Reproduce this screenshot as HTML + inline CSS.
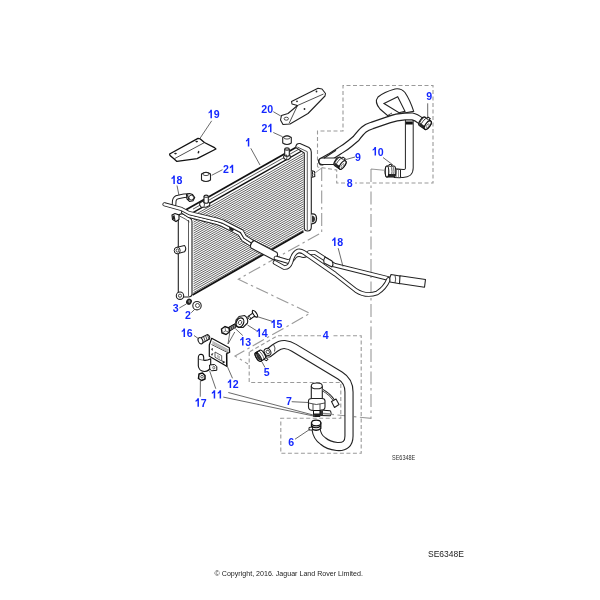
<!DOCTYPE html>
<html><head><meta charset="utf-8">
<style>
html,body{margin:0;padding:0;background:#fff;width:600px;height:600px;overflow:hidden}
svg{display:block;filter:blur(0.3px)}
</style></head>
<body>
<svg width="600" height="600" viewBox="0 0 600 600">
<defs>
<style>
.lb{font-family:"Liberation Sans",sans-serif;font-weight:bold;font-size:11.5px;fill:#1428ff}
.ln{fill:none;stroke:#333;stroke-width:0.9}
.dsh{fill:none;stroke:#9a9a9a;stroke-width:1.1;stroke-dasharray:4 2.5}
.dd{fill:none;stroke:#9a9a9a;stroke-width:1.1;stroke-dasharray:13 3.5 2.5 3.5}
.o{fill:#fff;stroke:#222;stroke-width:1.1;stroke-linejoin:round}
.th{fill:none;stroke:#222;stroke-width:0.8}
.tb1{fill:none;stroke:#222;stroke-linecap:round;stroke-linejoin:round}
.tb2{fill:none;stroke:#fff;stroke-linecap:round;stroke-linejoin:round}
</style>
</defs>
<!-- DASHED BOXES -->
<g id="dashes">
  <path class="dsh" d="M317.5,167 L317.5,131 L343,131 L343,85.5 L433,85.5 L433,183 L355,183 M345,183 L336.7,183 L336.7,170 L317.5,167"/>
  <path class="dd" d="M321.7,168 L321.7,232.5 L238.3,279.2 L310,313.3 L235,356 L248,364"/>
  <path class="dd" d="M371,169 L371,418.3 L330,414.2 M371,169 L386.5,170.5"/>
  <path class="dsh" d="M249.2,352 L249.2,382.5 L340.8,382.5 L340.8,418.3 L280.8,418.3 L280.8,453.3 L361.2,453.3 L361.2,335.8 L331,335.8 M321,335.8 L277.5,335.8 L249.2,352"/>
</g>

<!-- RADIATOR -->
<g id="radiator">
  <path d="M193.5,215.60L303.5,153.23M193.5,217.80L303.5,155.43M193.5,220.00L303.5,157.63M193.5,222.20L303.5,159.83M193.5,224.40L303.5,162.03M193.5,226.60L303.5,164.23M193.5,228.80L303.5,166.43M193.5,231.00L303.5,168.63M193.5,233.20L303.5,170.83M193.5,235.40L303.5,173.03M193.5,237.60L303.5,175.23M193.5,239.80L303.5,177.43M193.5,242.00L303.5,179.63M193.5,244.20L303.5,181.83M193.5,246.40L303.5,184.03M193.5,248.60L303.5,186.23M193.5,250.80L303.5,188.43M193.5,253.00L303.5,190.63M193.5,255.20L303.5,192.83M193.5,257.40L303.5,195.03M193.5,259.60L303.5,197.23M193.5,261.80L303.5,199.43M193.5,264.00L303.5,201.63M193.5,266.20L303.5,203.83M193.5,268.40L303.5,206.03M193.5,270.60L303.5,208.23M193.5,272.80L303.5,210.43M193.5,275.00L303.5,212.63M193.5,277.20L303.5,214.83M193.5,279.40L303.5,217.03M193.5,281.60L303.5,219.23M193.5,283.80L303.5,221.43M193.5,286.00L303.5,223.63M193.5,288.20L303.5,225.83M193.5,290.40L303.5,228.03M193.5,292.60L303.5,230.23" fill="none" stroke="#444" stroke-width="0.85"/>
  <path d="M192.5,295 L303.5,231.5" fill="none" stroke="#111" stroke-width="1.8"/>
  <path d="M186,209.82 L298,146.31 L303.5,149.00 L303.5,150.00 L192.5,212.93 L186,212.32 Z" fill="#fff" stroke="none"/>
  <path d="M186,209.82 L298,146.31" fill="none" stroke="#111" stroke-width="1.7"/>
  <path d="M193,209.15 L301,147.91" fill="none" stroke="#333" stroke-width="0.8"/>
  <path d="M192.5,212.93 L303.5,150.00" fill="none" stroke="#111" stroke-width="1.4"/>
  <g class="o">
    <path d="M199.7,203 L203,201 L208,201 L209.7,203.5 L209.7,205.5 L206,207.3 L201,207 L199.7,205 Z"/>
    <path d="M204,196.2 L204,202.5 Q206.2,204 208.3,202.5 L208.3,196.2"/>
    <ellipse cx="206.15" cy="196.2" rx="2.15" ry="1.1"/>
    <path d="M283.7,156 L286,154.3 L289,154.3 L290.3,156 L290.3,158 L288,159.7 L285.5,159.7 L283.7,158 Z"/>
    <path d="M284.7,149 L284.7,155.5 Q287,157 289.3,155.5 L289.3,149"/>
    <ellipse cx="287" cy="149" rx="2.3" ry="1.1"/>
  </g>
  <path class="th" d="M203,201 L204.5,204 L204,207 M286,154.3 L287,157 L286.5,159.7"/>
  <!-- left tank -->
  <path d="M178.3,218 Q178.3,213 183,214 L189,217 Q192,219 192,222 L192,294 Q192,297 188,297 L182,297 Q178.3,297 178.3,293 Z" fill="#fff" stroke="#222" stroke-width="1.1"/>
  <path d="M188.5,220 L188.5,296" fill="none" stroke="#333" stroke-width="0.8"/>
  <path d="M172,215 L175,213.5 L179,215 L179,219.5 L176,221.5 L172.5,219.5 Z" fill="#fff" stroke="#111" stroke-width="1.1"/>
  <path d="M172.5,216 L174.5,215 L175.5,220.5 L173,219 Z" fill="#222"/>
  <path d="M179.5,216 Q186,219 189.5,222" fill="none" stroke="#333" stroke-width="0.8"/>
  <!-- right tank -->
  <path d="M295.7,147.5 Q296,143 300,143.5 L309,147.5 Q311.3,149 311.3,152 L311.3,227 Q311.3,231 307.5,231 Q304.3,231 304.3,228 L304.3,153 Z" fill="#fff" stroke="#222" stroke-width="1.1"/>
  <path d="M297.3,147 L307.3,151.7 L307.3,230" fill="none" stroke="#333" stroke-width="0.8"/>
  <g class="o">
    <path d="M177.2,247.2 L184.5,245.5 Q187,248.5 184.5,251.8 L177.2,253.8 Z"/>
    <circle cx="180" cy="295.7" r="3.7"/>
    <path d="M311.3,214 Q316.5,213 316.5,218.5 Q316.5,224 311.3,223.8" stroke-width="1.3"/>
    <path d="M311.3,170.5 L314.5,171.5 L314.8,176.5 L311.3,177.5"/>
  </g>
  <ellipse cx="177.2" cy="250.5" rx="3" ry="3.3" fill="#fff" stroke="#222" stroke-width="1"/><ellipse cx="177.4" cy="250.5" rx="1.3" ry="1.6" class="th"/>
  <circle cx="180" cy="295.7" r="1.6" class="th"/>
  <path d="M312,215.5 Q315,216 315,219 Q315,222 312,222.5 Z" fill="#333"/><path d="M311.5,171 L313,171.5 L313,176.5 L311.5,177 Z" fill="#222"/>
  <path d="M311.5,175.5 L321.7,168" stroke="#888" stroke-width="0.8"/>
</g>

<!-- PIPE 18 -->
<g id="pipe18">
  <path class="tb1" stroke-width="4.6" d="M174,205 L174.3,200.5 Q175,197.5 178,197 L184,195.8 L188,195.5"/>
  <path class="tb2" stroke-width="2.6" d="M174,205 L174.3,200.5 Q175,197.5 178,197 L184,195.8 L188,195.5"/>
  <path d="M186.5,194.5 L189.5,193.5 L192.5,194.5 L194.7,197.5 L193,200.8 L189.5,201.5 L187,199 Z" fill="#fff" stroke="#111" stroke-width="1.1"/>
  <circle cx="191.3" cy="197.6" r="2.4" fill="#fff" stroke="#222" stroke-width="0.9"/>
  <path d="M187.5,195 L189,200" stroke="#222" stroke-width="1.2"/>
<path class="tb1" stroke-width="4.0" d="M183,212 L189,216 L217,223 L222,224.8 L239.5,234 L243,239.5 L251.5,245 L256,247"/>
  <path class="tb2" stroke-width="2.2" d="M183,212 L189,216 L217,223 L222,224.8 L239.5,234 L243,239.5 L251.5,245 L256,247"/>
  <path class="tb1" stroke-width="4.2" d="M164.5,204.3 L181.5,209 L189,213 L218,220 L223,221.7 L241.7,231.2 L245,237 L251.7,241.2 L256,243.5"/>
  <path class="tb2" stroke-width="2.4" d="M164.5,204.3 L181.5,209 L189,213 L218,220 L223,221.7 L241.7,231.2 L245,237 L251.7,241.2 L256,243.5"/>
  <path d="M229,226.5 L234,229 L233,231.5 L229.5,230 Z" fill="#222"/>
  <path class="o" d="M254,240.5 L277,252.5 Q279,256.5 274,260 L251,248 Q249,244 254,240.5 Z"/>
  <!-- tube B (behind) -->
  <path class="tb1" stroke-width="4.6" d="M276,258 L288,261.5 Q292,261 295,256 Q298,254 301,255 Q305,257 309,252.5 L315,252.5 L322,257 L334,265 L391,279.2"/>
  <path class="tb2" stroke-width="2.8" d="M276,258 L288,261.5 Q292,261 295,256 Q298,254 301,255 Q305,257 309,252.5 L315,252.5 L322,257 L334,265 L391,279.2"/>
  <!-- tube A (front) -->
  <path class="tb1" stroke-width="4.6" d="M275,262.5 L284,267.5 Q289,268 291,262 Q293,253 298,251 Q301,250.5 304,252.5 L335,274 L356,290.5 Q366,297 377,293 Q385,288 388.5,279.5"/>
  <path class="tb2" stroke-width="2.8" d="M275,262.5 L284,267.5 Q289,268 291,262 Q293,253 298,251 Q301,250.5 304,252.5 L335,274 L356,290.5 Q366,297 377,293 Q385,288 388.5,279.5"/>
  <path class="o" d="M325,257 L332,261 Q334,264 332,267 L324,263 Q323,260 325,257 Z"/>
  <path class="o" d="M391,274.5 L400,276 Q401.5,279.8 400,283.8 L390,282 Q389,278 391,274.5 Z"/><path class="th" d="M395,275.3 Q396.3,279 395,283"/>
  <path class="o" d="M400,275.8 L425.5,279.5 L424.5,287.3 L399.5,283.5 Z"/>
</g>

<!-- BRACKETS -->
<g id="brackets">
  <path d="M169.6,154 L198,138.4 L200.3,138.9 L204.4,142.5 L214.5,147.6 L215.9,149 L197.1,158.6 L176.9,161.4 L174.2,159 L170,155.4 Z" fill="#fff" stroke="#111" stroke-width="1.3" stroke-linejoin="round"/>
  <path class="th" d="M174.6,158.6 L204.4,142.6"/>
  <ellipse cx="175.5" cy="153.6" rx="1.3" ry="0.8" fill="#222"/>
  <ellipse cx="196.7" cy="141.6" rx="1.3" ry="0.8" fill="#222"/>
  <ellipse cx="198.5" cy="152.2" rx="0.8" ry="1.4" fill="#222" transform="rotate(20 198.5 152.2)"/>
  <path class="o" d="M291.5,101.5 L318,88.3 L322,89 L325.5,93.5 L325,96 L308,113.5 L290,124 L283,124.5 L280.5,120 L281.5,115.5 L288,113.5 L297.5,105.5 L292,104 Z"/>
  <path class="th" d="M297.5,105.5 L323.5,94 M297.5,105.5 L289,123.5"/>
  <ellipse cx="286.3" cy="118.7" rx="2.2" ry="1.5" class="th"/>
  <circle cx="297" cy="101.3" r="0.9" fill="#222"/>
  <circle cx="316.5" cy="91.5" r="0.9" fill="#222"/>
  <circle cx="304.5" cy="109" r="0.9" fill="#222"/>
  <!-- bushings 21 -->
  <path class="o" d="M282.7,137.5 L282.7,143 Q287,146 291.3,143 L291.3,137.5 Q287,134 282.7,137.5 Z"/>
  <ellipse cx="287" cy="137.5" rx="3.2" ry="1.6" class="th"/>
  <path class="o" d="M201.5,174 L201.5,180 Q206,183 210.5,180 L210.5,174 Q206,170.5 201.5,174 Z"/>
  <ellipse cx="206" cy="174" rx="3.2" ry="1.6" class="th"/>
</g>

<!-- HOSE 8 -->
<g id="hose8">
  <path d="M380,109 Q374,102 378,97 Q384,92 395,89 Q401,88 405,92.5 Q410,100 413.7,111.3 L388,116 Z M384,103.5 L397.7,96.7 L405,111.3 L399,112.7 Z" fill="#fff" fill-rule="evenodd" stroke="#222" stroke-width="1.1"/>
  <path class="tb1" stroke-width="8.8" d="M409.3,121 L409.3,168 Q409.3,173.5 403,173.5 L397,173"/>
  <path class="tb2" stroke-width="6.8" d="M409.3,121 L409.3,168 Q409.3,173.5 403,173.5 L397,173"/>
  <rect x="405.8" y="121.5" width="7" height="3" fill="#111"/>
  <path class="tb1" stroke-width="7.8" stroke-linecap="round" d="M322,161.5 L330,157 L340,150.5 Q346,147 350,143.5 L356,138.5 Q361,132 364,129.5 Q367,127 372,125.5 L389.5,119.5 Q396,117 405,116.5 L412,116.3 Q416,117 421,121"/>
  <path class="tb2" stroke-width="5.5" stroke-linecap="round" d="M322,161.5 L330,157 L340,150.5 Q346,147 350,143.5 L356,138.5 Q361,132 364,129.5 Q367,127 372,125.5 L389.5,119.5 Q396,117 405,116.5 L412,116.3 Q416,117 421,121"/>
  <path class="th" d="M387,115.8 L392,113"/>
  <path class="tb1" stroke-width="7.6" stroke-linecap="round" d="M322.3,161.3 L336,161.3"/>
  <path class="tb2" stroke-width="5.4" stroke-linecap="round" d="M322.3,161.3 L336,161.3"/>
  <path d="M323.9,158.2 L336,150.2" stroke="#222" stroke-width="1.1"/>
  <!-- clamps 9 -->
  <g transform="translate(425,123.2) rotate(35) scale(1.12)">
    <path d="M-3,-4.5 L3,-4.5 A2,4.5 0 0 1 3,4.5 L-3,4.5 A2,4.5 0 0 1 -3,-4.5 Z" fill="#fff" stroke="#111" stroke-width="1.1"/>
    <path d="M-4.2,2.25 L3,2.25 L3,4.5 L-3,4.5 Z" fill="#222"/>
    <path d="M-0.8999999999999999,-4.5 A1.6,4.5 0 0 0 -0.8999999999999999,4.5 M-2.7,-4.5 A1.6,4.5 0 0 0 -2.7,4.5" fill="none" stroke="#333" stroke-width="0.8"/>
    <ellipse cx="3" cy="0" rx="2" ry="4.5" fill="#fff" stroke="#111" stroke-width="1.1"/>
    <ellipse cx="3.3" cy="0.5" rx="0.9" ry="2.025" fill="none" stroke="#666" stroke-width="0.7"/>
    <path d="M-1,-4.5 L-1,-6.0 L1.5,-6.0 L1.5,-4.5" fill="#fff" stroke="#111" stroke-width="0.9"/>
  </g>
  <g transform="translate(340,163.2) rotate(35) scale(1.05)">
    <path d="M-3,-4.8 L3,-4.8 A2.1,4.8 0 0 1 3,4.8 L-3,4.8 A2.1,4.8 0 0 1 -3,-4.8 Z" fill="#fff" stroke="#111" stroke-width="1.1"/>
    <path d="M-4.26,2.4 L3,2.4 L3,4.8 L-3,4.8 Z" fill="#222"/>
    <path d="M-0.8999999999999999,-4.8 A1.6800000000000002,4.8 0 0 0 -0.8999999999999999,4.8 M-2.7,-4.8 A1.6800000000000002,4.8 0 0 0 -2.7,4.8" fill="none" stroke="#333" stroke-width="0.8"/>
    <ellipse cx="3" cy="0" rx="2.1" ry="4.8" fill="#fff" stroke="#111" stroke-width="1.1"/>
    <ellipse cx="3.3" cy="0.5" rx="0.9450000000000001" ry="2.16" fill="none" stroke="#666" stroke-width="0.7"/>
    <path d="M-1,-4.8 L-1,-6.3 L1.5,-6.3 L1.5,-4.8" fill="#fff" stroke="#111" stroke-width="0.9"/>
  </g>
  <!-- clamp 10 + fitting -->
  <path d="M394,169 L400.5,169.5 L400.5,177.8 L394,177.5 Z" fill="#fff" stroke="#222" stroke-width="1"/>
  <path d="M396.3,169.2 L396.3,177.6 M398.5,169.3 L398.5,177.7" stroke="#666" stroke-width="0.7"/>
  <g transform="translate(390.5,171.5) rotate(180)">
    <path d="M-3.5,-5.5 L3.5,-5.5 A1.8,5.5 0 0 1 3.5,5.5 L-3.5,5.5 A1.8,5.5 0 0 1 -3.5,-5.5 Z" fill="#fff" stroke="#111" stroke-width="1.1"/>
    <path d="M-4.5,-5.5 L3.5,-5.5 L3.5,-2.5 L-4.5,-2.5 Z" fill="#222"/>
    <ellipse cx="3.5" cy="0" rx="1.8" ry="5.5" fill="#fff" stroke="#111" stroke-width="1.1"/>
    <path d="M0,-5.5 A1.5,5.5 0 0 0 0,5.5 M-2,-5.5 A1.5,5.5 0 0 0 -2,5.5" fill="none" stroke="#333" stroke-width="0.8"/>
    <path d="M-1,5.5 L-1,7 L1.5,7 L1.5,5.5" fill="#fff" stroke="#111" stroke-width="0.9"/>
  </g>
</g>

<!-- SMALL PARTS -->
<g id="small">
  <!-- washer 3 -->
  <ellipse cx="189" cy="301.7" rx="2.8" ry="3.2" fill="#222" transform="rotate(30 189 301.7)"/>
  <ellipse cx="189.3" cy="301.5" rx="1" ry="1.4" fill="#888"/>
  <!-- bushing 2 -->
  <circle cx="197" cy="305.7" r="4.2" class="o"/>
  <circle cx="197.5" cy="305.5" r="2" class="th"/>
  <!-- bolt 16 -->
  <path class="o" d="M201.5,337.5 L207.5,334.5 Q210.5,336 209.5,339 L201.5,343.5 Z"/>
  <ellipse cx="200.5" cy="340.7" rx="2.2" ry="3.3" class="o" transform="rotate(-25 200.5 340.7)"/>
  <path class="th" d="M203.5,336.5 L205.5,342 M205.5,335.5 L207.5,341 M207.5,334.8 L209,339.5"/>
  <!-- bolt 13 -->
  <path d="M227.8,327.8 L234.8,323.8 L236.5,326.8 L229.5,331.2 Z" fill="#444" stroke="#111" stroke-width="1"/>
  <path d="M230,327 L231,330 M232,326 L233,329 M234,325 L235,328" stroke="#ddd" stroke-width="0.5"/>
  <path d="M221.5,329 L225,326.5 L229,328 L229.5,332 L226,334.5 L222,333 Z" fill="#fff" stroke="#111" stroke-width="1.4"/>
  <path d="M225,326.8 L225.5,331 L222,333 M225.5,331 L229.3,332" stroke="#444" stroke-width="0.7" fill="none"/>
  <!-- washer 14 -->
  <path class="o" d="M239,316.5 L244.5,315.5 Q248.5,318 247.5,323 L243,327.5 L238.5,327.5 Q235,325 236,320 Z"/>
  <ellipse cx="240" cy="322.5" rx="3.6" ry="4.8" transform="rotate(25 240 322.5)" fill="#fff" stroke="#111" stroke-width="1.2"/>
  <ellipse cx="240" cy="322.5" rx="1.6" ry="2.2" transform="rotate(25 240 322.5)" class="th"/>
  <!-- stud 15 -->
  <g transform="translate(252.5,315.5) rotate(-35)">
    <path d="M-4,-1.8 L1,-1.8 L3,-3.8 L3,3.8 L1,1.8 L-4,1.8 Z" fill="#fff" stroke="#111" stroke-width="1"/>
    <ellipse cx="-4" cy="0" rx="1" ry="1.8" fill="#fff" stroke="#111" stroke-width="0.9"/>
    <ellipse cx="3" cy="0" rx="1.6" ry="3.8" fill="#fff" stroke="#111" stroke-width="1.1"/>
  </g>
  <!-- plate 12 -->
  <path d="M211.7,338.3 L229.3,347.7 L229.7,352.3 L226.5,353.7 L226.7,366.3 L209.3,356.3 L209.3,345 Z" fill="#fff" stroke="#111" stroke-width="1.2" stroke-linejoin="round"/>
  <path d="M211.5,344.5 L228.5,353" fill="none" stroke="#333" stroke-width="0.8"/>
  <path d="M212.5,341 L228.5,349.5 L228.5,352.5 L212.5,344 Z" fill="#999"/>
  <path d="M212.5,342 L228.5,350.5 M212.5,343 L228.5,351.5" stroke="#fff" stroke-width="0.4"/>
  <path d="M215,352 L221.7,355.7 L221.7,361 L215,357.3 Z" fill="none" stroke="#333" stroke-width="0.8"/>
  <path d="M217,354.5 L220,356.2 L220,359 L217,357.3 Z" fill="#bbb"/>
  <path d="M211,349 L213,348 L212.5,351 Z M211,354 L213.5,353 L212,356 Z M222,360.5 L225.5,362 L223,363.5 Z" fill="#222"/>
  <path d="M226.7,354 L226.7,366.3" stroke="#111" stroke-width="1.3"/>
  <!-- clamp 11 -->
  <path d="M198.3,358 L198.3,366 Q199,371.2 204.5,371.5 Q209.5,371.2 210.7,366.5 L210.7,358.7 Q207,360.8 203.7,360.3 L203.7,357.5 Q203.7,354.4 201,354.2 Q198.3,354.3 198.3,358 Z" fill="#fff" stroke="#111" stroke-width="1.1" stroke-linejoin="round"/>
  <path d="M203.7,360.3 Q201,360 198.6,359" fill="none" stroke="#444" stroke-width="0.7"/>
  <path d="M209.5,365 L214.5,364.5 L216.8,366.5 L216.8,370.3 L211.5,370.8 L209.8,369 Z" fill="#fff" stroke="#111" stroke-width="1"/>
  <ellipse cx="213.8" cy="367.6" rx="1" ry="1.4" fill="none" stroke="#333" stroke-width="0.7"/>
  <!-- nut 17 -->
  <path d="M199,374 L202.5,373 L205,375.5 L205,379 L201.5,380.5 L198.5,378.5 Z" fill="#fff" stroke="#111" stroke-width="1.5" stroke-linejoin="round"/>
  <circle cx="202" cy="376.7" r="1.3" fill="none" stroke="#333" stroke-width="0.8"/>
</g>

<!-- HOSE 4 / PUMP 7 / CLAMPS 5,6 -->
<g id="hose4">
  <path class="tb1" stroke-width="9.2" stroke-linecap="butt" d="M268.5,353 L275,348 Q280,344.3 284.5,344.5 Q289.5,345 294,347.8 L340,375.5 Q349,381 349,392 L349,436 Q349,447.5 337,446.5 Q328,445.5 323,441 Q317,437 316,429"/>
  <path class="tb2" stroke-width="7.0" stroke-linecap="butt" d="M268.5,353 L275,348 Q280,344.3 284.5,344.5 Q289.5,345 294,347.8 L340,375.5 Q349,381 349,392 L349,436 Q349,447.5 337,446.5 Q328,445.5 323,441 Q317,437 316,429"/>
  <path class="th" d="M273.5,344.5 Q276,348 274.5,351.5"/>
  <ellipse cx="267.5" cy="352" rx="3.2" ry="3.8" transform="rotate(-30 267.5 352)" fill="#fff" stroke="#222" stroke-width="1"/>
  <ellipse cx="267.8" cy="352" rx="1.5" ry="2" transform="rotate(-30 267.8 352)" class="th"/>
  <!-- clamp 5 -->
  <g transform="translate(260.4,355.7) rotate(-32)">
    <path d="M-2.5,-5 L2.5,-5 A2,5 0 0 1 2.5,5 L-2.5,5 A2,5 0 0 1 -2.5,-5 Z" fill="#fff" stroke="#111" stroke-width="1.2"/>
    <path d="M0.5,-5 A1.6,5 0 0 1 0.5,5" fill="none" stroke="#555" stroke-width="0.8"/>
    <ellipse cx="-2.5" cy="0" rx="2" ry="5" fill="#fff" stroke="#111" stroke-width="1.2"/>
    <ellipse cx="-2.3" cy="0.3" rx="1.4" ry="3.8" fill="#333"/>
    <path d="M-4,-4 L-1,-5.5 L1,-5 L-2,-3 Z" fill="#111"/>
    <path d="M1,5 L2.5,7.5 L4.5,7 L3.5,4.5 Z" fill="#fff" stroke="#111" stroke-width="0.9"/>
  </g>
  <!-- pump 7 -->
  <path class="o" d="M311.3,386 L311.3,401 L322.3,401 L322.3,386"/>
  <ellipse cx="316.8" cy="385.9" rx="5.5" ry="2.9" class="o"/>
  <path class="o" d="M308.5,401 Q308.5,398.5 312,398.5 L322,398.5 Q325,398.5 325,401 L325,407 Q325,410.5 320,410.5 L313.5,410.5 Q308.5,410.5 308.5,407 Z"/>
  <path class="th" d="M313,404 L313,410 M320,404 L320,410 M308.5,403 Q316,406 325,403"/>
  <path d="M313.5,410.5 L320,410.5 L320,416.5 L313.5,416.5 Z" fill="#fff" stroke="#111" stroke-width="1"/><path d="M313.5,413.5 L320,413.5 L320,416.5 L313.5,416.5 Z" fill="#222"/>
  <path d="M320.5,410 L330.5,410.8 Q331.8,413.3 330.5,415.8 L320.5,415.5 Z" fill="#fff" stroke="#111" stroke-width="1"/><path d="M320.5,410.2 L323,410.3 L323,415.6 L320.5,415.5 Z" fill="#333"/><path d="M323,413.5 L330.5,414" stroke="#888" stroke-width="1.4"/>
  <path d="M322.5,390 Q330,394 334.5,401" fill="none" stroke="#222" stroke-width="2.2"/>
  <path d="M322.5,390 Q330,394 334.5,401" fill="none" stroke="#fff" stroke-width="0.8"/>
  <path class="o" d="M331.5,401.5 L336,399 L339,404.5 L334.5,407.5 Z"/>
  <!-- clamp 6 -->
  <path d="M311.5,423 L311.5,428.5 Q316,432 320.8,428.5 L320.8,423 Z" fill="#fff" stroke="#111" stroke-width="1.3"/>
  <ellipse cx="316.2" cy="423" rx="4.6" ry="2.8" fill="#fff" stroke="#111" stroke-width="1.2"/>
  <path d="M309,427.5 L312.5,427 L312.5,430 L309,430 Z" fill="#fff" stroke="#111" stroke-width="0.9"/>
  <path d="M311.5,426 Q316,429.5 320.8,426" fill="none" stroke="#111" stroke-width="1.2"/>
</g>

<!-- LEADERS -->
<path d="M211.7,120.8L200,138.3M273.3,111.7L280.8,116M273.3,132.5L282.5,136.7M250.8,148.3L260,165M222.5,169.7L211.7,175.3M177,185.5L179,195.5M427.7,103.3L427.7,116.7M383,157.5L393,165M355,157L344.2,160M338.2,248.2L343,266.6M179.3,308L186.3,304M191.3,312.7L195,309M257.5,316.7L273.3,321.7M194,335.5L199,339M247.5,325L256.7,330.8M242.75,335.5L235.25,328.5M228,344L229.75,332.75M228,344L234.75,332M226.7,365L232.5,378.3M209.6,370.8L215.8,388.75M200.4,380.8L200.25,396.7M223.3,397.1L315,416.3M228.3,392.5L315,415.5M291.7,401.7L308.3,402.5M262,362L265,367.5M295,439.2L310,429.2" fill="none" stroke="#444" stroke-width="0.8"/>
<!-- LABELS -->
<g style="font-family:'Liberation Sans',sans-serif;font-weight:bold;font-size:11.8px;fill:#1428ff">
<text x="0" y="0" transform="translate(213.65,118.25) scale(0.9,1)">9</text>
<text x="0" y="0" transform="translate(261.30,113.00) scale(0.9,1)">2</text><text x="0" y="0" transform="translate(267.20,113.00) scale(0.9,1)">0</text>
<text x="0" y="0" transform="translate(261.40,132.20) scale(0.9,1)">2</text>

<text x="0" y="0" transform="translate(223.10,173.10) scale(0.9,1)">2</text>
<text x="0" y="0" transform="translate(176.55,184.05) scale(0.9,1)">8</text>
<text x="0" y="0" transform="translate(426.35,100.25) scale(0.9,1)">9</text>
<text x="0" y="0" transform="translate(377.75,155.50) scale(0.9,1)">0</text>
<text x="0" y="0" transform="translate(354.90,161.15) scale(0.9,1)">9</text>
<text x="0" y="0" transform="translate(346.85,187.20) scale(0.9,1)">8</text>
<text x="0" y="0" transform="translate(337.25,245.95) scale(0.9,1)">8</text>
<text x="0" y="0" transform="translate(172.70,312.35) scale(0.9,1)">3</text>
<text x="0" y="0" transform="translate(184.90,319.20) scale(0.9,1)">2</text>
<text x="0" y="0" transform="translate(276.55,328.10) scale(0.9,1)">5</text>
<text x="0" y="0" transform="translate(186.75,337.00) scale(0.9,1)">6</text>
<text x="0" y="0" transform="translate(261.75,337.00) scale(0.9,1)">4</text>
<text x="0" y="0" transform="translate(322.85,339.00) scale(0.9,1)">4</text>
<text x="0" y="0" transform="translate(245.25,345.50) scale(0.9,1)">3</text>
<text x="0" y="0" transform="translate(263.65,376.15) scale(0.9,1)">5</text>
<text x="0" y="0" transform="translate(232.85,387.95) scale(0.9,1)">2</text>

<text x="0" y="0" transform="translate(285.90,404.85) scale(0.9,1)">7</text>
<text x="0" y="0" transform="translate(200.65,406.65) scale(0.9,1)">7</text>
<text x="0" y="0" transform="translate(288.25,446.30) scale(0.9,1)">6</text>
<path d="M210.46,109.80 L211.94,109.80 L211.94,118.25 L210.46,118.25 L210.46,112.35 L208.60,113.53 L208.60,111.94 L209.87,111.17 Z M270.01,123.75 L271.50,123.75 L271.50,132.20 L270.01,132.20 L270.01,126.30 L268.15,127.48 L268.15,125.89 L269.43,125.12 Z M247.81,138.05 L249.29,138.05 L249.29,146.50 L247.81,146.50 L247.81,140.60 L245.95,141.78 L245.95,140.19 L247.22,139.42 Z M231.71,164.65 L233.20,164.65 L233.20,173.10 L231.71,173.10 L231.71,167.20 L229.85,168.38 L229.85,166.79 L231.13,166.02 Z M173.36,175.60 L174.84,175.60 L174.84,184.05 L173.36,184.05 L173.36,178.15 L171.50,179.33 L171.50,177.74 L172.77,176.97 Z M374.56,147.05 L376.04,147.05 L376.04,155.50 L374.56,155.50 L374.56,149.60 L372.70,150.78 L372.70,149.19 L373.97,148.42 Z M334.06,237.50 L335.54,237.50 L335.54,245.95 L334.06,245.95 L334.06,240.05 L332.20,241.23 L332.20,239.64 L333.47,238.87 Z M273.36,319.65 L274.84,319.65 L274.84,328.10 L273.36,328.10 L273.36,322.20 L271.50,323.38 L271.50,321.79 L272.77,321.02 Z M183.56,328.55 L185.04,328.55 L185.04,337.00 L183.56,337.00 L183.56,331.10 L181.70,332.28 L181.70,330.69 L182.97,329.92 Z M258.56,328.55 L260.04,328.55 L260.04,337.00 L258.56,337.00 L258.56,331.10 L256.70,332.28 L256.70,330.69 L257.97,329.92 Z M242.06,337.05 L243.54,337.05 L243.54,345.50 L242.06,345.50 L242.06,339.60 L240.20,340.78 L240.20,339.19 L241.47,338.42 Z M229.66,379.50 L231.14,379.50 L231.14,387.95 L229.66,387.95 L229.66,382.05 L227.80,383.23 L227.80,381.64 L229.07,380.87 Z M213.71,390.15 L215.19,390.15 L215.19,398.60 L213.71,398.60 L213.71,392.70 L211.85,393.88 L211.85,392.29 L213.12,391.52 Z M219.61,390.15 L221.10,390.15 L221.10,398.60 L219.61,398.60 L219.61,392.70 L217.75,393.88 L217.75,392.29 L219.03,391.52 Z M197.46,398.20 L198.94,398.20 L198.94,406.65 L197.46,406.65 L197.46,400.75 L195.60,401.93 L195.60,400.34 L196.87,399.57 Z"/>
</g>
<text x="392" y="460.3" textLength="23.3" lengthAdjust="spacingAndGlyphs" style="font-family:'Liberation Sans',sans-serif;font-size:6.8px;fill:#333">SE6348E</text>
<text x="428" y="556.5" textLength="36" lengthAdjust="spacingAndGlyphs" style="font-family:'Liberation Sans',sans-serif;font-size:9.6px;fill:#222">SE6348E</text>
<text x="214.6" y="576.2" textLength="148.3" lengthAdjust="spacingAndGlyphs" style="font-family:'Liberation Sans',sans-serif;font-size:7.9px;fill:#222">© Copyright, 2016. Jaguar Land Rover Limited.</text>
</svg>
</body></html>
